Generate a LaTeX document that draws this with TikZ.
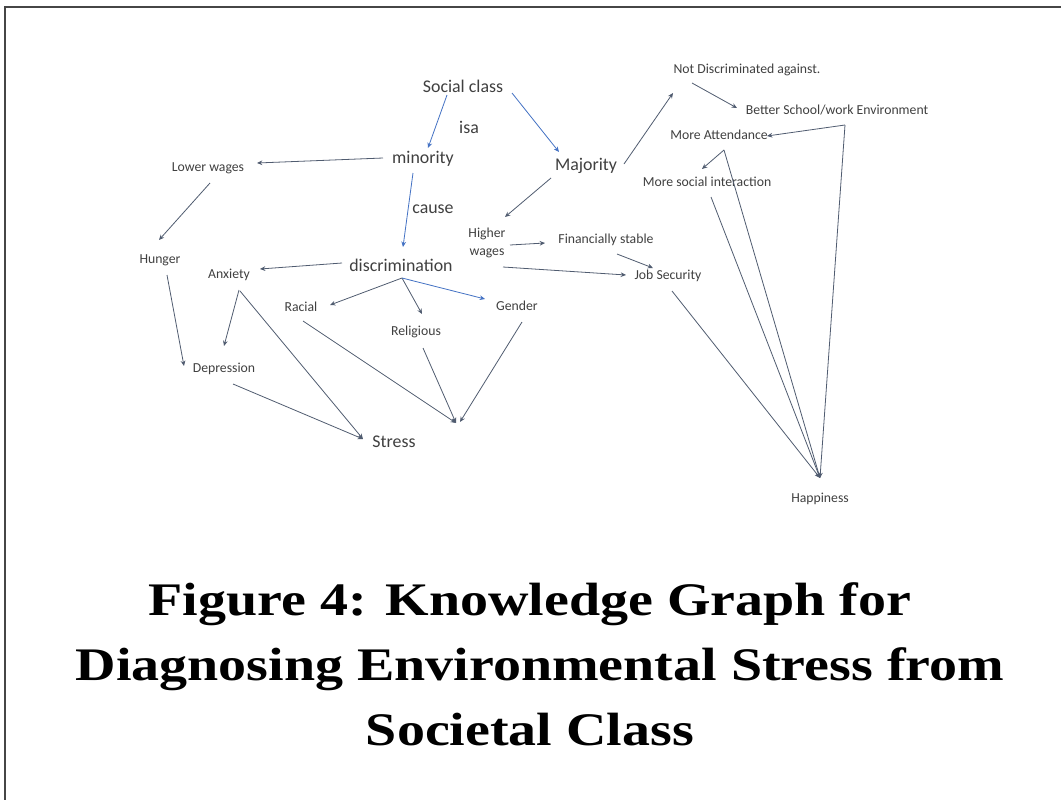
\documentclass[tikz,border=0pt]{standalone}
\usepackage{fontspec}
\setmainfont{Liberation Serif}
\newfontfamily\lab{Carlito}
\newfontfamily\capfont{Liberation Serif}[FakeStretch=1.2]
\usetikzlibrary{arrows.meta}
\definecolor{txt}{RGB}{64,64,64}
\definecolor{lnk}{RGB}{80,92,112}
\definecolor{blu}{RGB}{68,114,196}
\definecolor{frm}{RGB}{70,70,70}
\tikzset{
  big/.style={font=\lab\fontsize{13.4}{15}\selectfont, text=txt, inner sep=0pt},
  sml/.style={font=\lab\fontsize{10.3}{12}\selectfont, text=txt, inner sep=0pt, align=center},
  captxt/.style={font=\capfont\bfseries\fontsize{35}{42}\selectfont, text=black, inner sep=0pt, anchor=base},
  arr/.style={draw=lnk, line width=0.6pt, -{Stealth[length=4pt,width=3.5pt]}},
  barr/.style={draw=blu, line width=0.6pt, -{Stealth[length=4pt,width=3.5pt]}},
}
\begin{document}
\begin{tikzpicture}[x=0.75pt,y=-0.75pt]
\useasboundingbox (0,0) rectangle (1061,800);
\fill[white] (0,0) rectangle (1061,800);
\draw[frm, line width=1.5pt] (5,800) -- (5,7) -- (1061,7);

\node[big] (SC) at (463,86) {Social class};
\node[big] (isa) at (469,127) {isa};
\node[big] (min) at (423,159) {minority};
\node[big] (cause) at (433,209) {cause};
\node[big] (disc) at (401,265) {discrimination};
\node[big] (Str) at (394,442) {Stress};
\node[big] (Maj) at (586,166) {Majority};
\node[sml] (LW) at (208,168) {Lower wages};
\node[sml] (Hun) at (160,260) {Hunger};
\node[sml] (Anx) at (229,275) {Anxiety};
\node[sml] (Rac) at (301,307) {Racial};
\node[sml] (Rel) at (416,332) {Religious};
\node[sml] (Gen) at (517,306) {Gender};
\node[sml] (Dep) at (224,369) {Depression};
\node[sml] (HW) at (487,243) {Higher\\[2pt]wages};
\node[sml] (FS) at (606,240) {Financially stable};
\node[sml] (JS) at (668,276) {Job Security};
\node[sml] (ND) at (747,70) {Not Discriminated against.};
\node[sml] (BS) at (837,110) {Better School/work Environment};
\node[sml] (MA) at (719,135) {More Attendance};
\node[sml] (MS) at (707,182) {More social interaction};
\node[sml] (Hap) at (820,499) {Happiness};
\coordinate (conv) at (456,423);

\draw[barr] ([shift={(-16,9)}]SC.center) -- ([shift={(5,-11)}]min.center);
\draw[barr] ([shift={(49,7)}]SC.center) -- ([shift={(-27,-14)}]Maj.center);
\draw[arr] ([shift={(-40,-1)}]min.center) -- ([shift={(49,-5)}]LW.center);
\draw[barr] ([shift={(-10,14)}]min.center) -- ([shift={(2,-18)}]disc.center);
\draw[arr] ([shift={(2,15)}]LW.center) -- ([shift={(-1,-20)}]Hun.center);
\draw[arr] ([shift={(7,15)}]Hun.center) -- ([shift={(-40,-3)}]Dep.center);
\draw[arr] ([shift={(-59,-2)}]disc.center) -- ([shift={(31,-6)}]Anx.center);
\draw[arr] ([shift={(10,15)}]Anx.center) -- ([shift={(0,-23)}]Dep.center);
\draw[arr] ([shift={(11,16)}]Anx.center) -- ([shift={(-31,-3)}]Str.center);
\draw[arr] ([shift={(9,15)}]Dep.center) -- ([shift={(-31,-3)}]Str.center);
\draw[arr] ([shift={(1,13)}]disc.center) -- ([shift={(29,-2)}]Rac.center);
\draw[arr] ([shift={(1,13)}]disc.center) -- ([shift={(6,-18)}]Rel.center);
\draw[barr] ([shift={(1,13)}]disc.center) -- ([shift={(-32,-7)}]Gen.center);
\draw[arr] ([shift={(2,14)}]Rac.center) -- (conv);
\draw[arr] ([shift={(7,16)}]Rel.center) -- (conv);
\draw[arr] ([shift={(5,16)}]Gen.center) -- ([shift={(4,-1)}]conv);
\draw[arr] ([shift={(-35,12)}]Maj.center) -- ([shift={(18,-26)}]HW.center);
\draw[arr] ([shift={(38,-2)}]Maj.center) -- ([shift={(-74,23)}]ND.center);
\draw[arr] ([shift={(-55,13)}]ND.center) -- ([shift={(-100,-2)}]BS.center);
\draw[arr] ([shift={(23,2)}]HW.center) -- ([shift={(-61,3)}]FS.center);
\draw[arr] ([shift={(16,24)}]HW.center) -- ([shift={(-42,-1)}]JS.center);
\draw[arr] ([shift={(11,14)}]FS.center) -- ([shift={(-15,-8)}]JS.center);
\draw[arr] ([shift={(8,15)}]BS.center) -- ([shift={(48,1)}]MA.center);
\draw[arr] ([shift={(8,15)}]BS.center) -- ([shift={(0,-21)}]Hap.center);
\draw[arr] ([shift={(5,15)}]MA.center) -- ([shift={(-5,-13)}]MS.center);
\draw[arr] ([shift={(5,15)}]MA.center) -- ([shift={(0,-21)}]Hap.center);
\draw[arr] ([shift={(4,15)}]MS.center) -- ([shift={(0,-21)}]Hap.center);
\draw[arr] ([shift={(4,15)}]JS.center) -- ([shift={(0,-21)}]Hap.center);

\node[captxt] (cap1) at (530,615) {Figure 4: Knowledge Graph for};
\node[captxt] (cap2) at (540,680) {Diagnosing Environmental Stress from};
\node[captxt] (cap3) at (530,745) {Societal Class};
\end{tikzpicture}
\end{document}
